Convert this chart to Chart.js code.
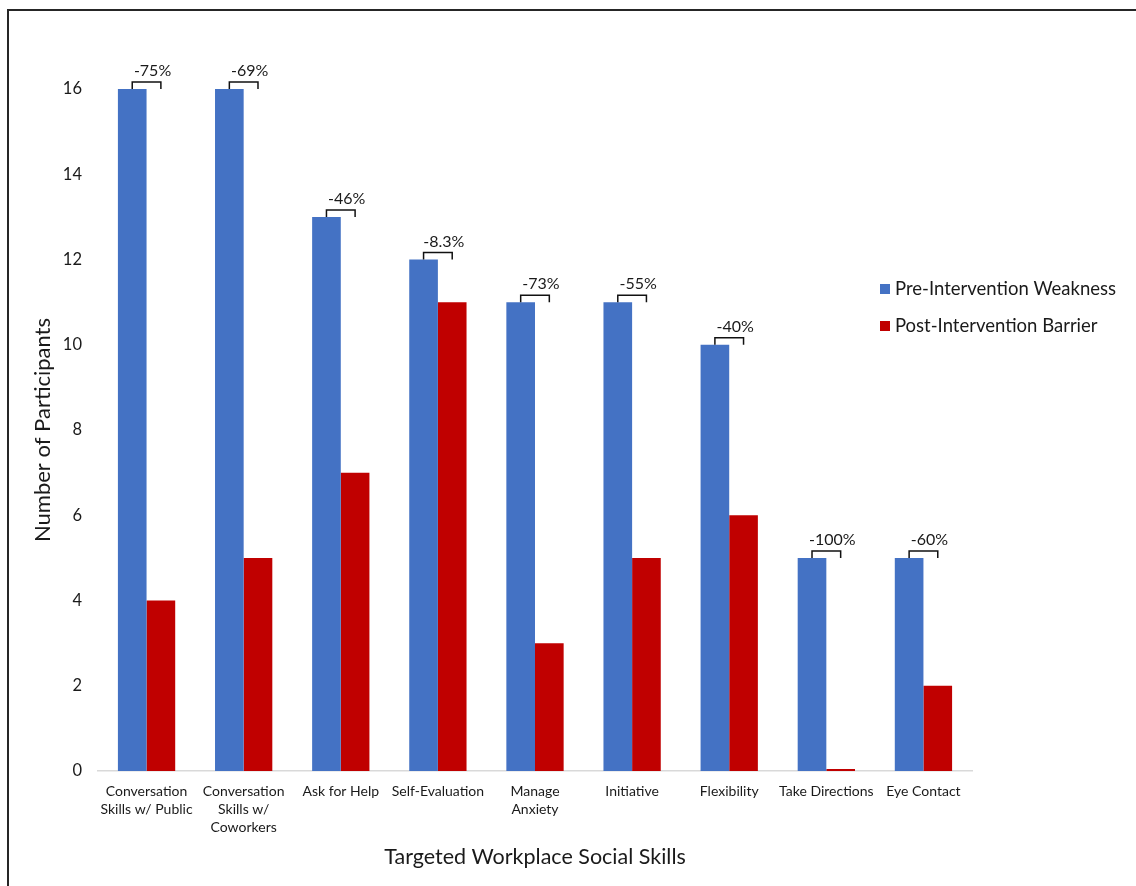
<!DOCTYPE html>
<html>
<head>
<meta charset="utf-8">
<script src="https://cdn.jsdelivr.net/npm/chart.js@4.4.1/dist/chart.umd.min.js"></script>
<style>
  html, body { margin: 0; padding: 0; background: #fff; }
  #wrap { position: relative; width: 1136px; height: 886px; overflow: hidden; }
  #frame {
    position: absolute; left: 7px; top: 9px; width: 1200px; height: 950px;
    border-left: 2px solid #262626; border-top: 2px solid #262626;
  }
  canvas { position: absolute; left: 0; top: 0; }
</style>
</head>
<body>
<div id="wrap">
  <div id="frame"></div>
  <canvas id="chart" width="1136" height="886"></canvas>
</div>
<script>
const skills = [
  ["Conversation", "Skills w/ Public"],
  ["Conversation", "Skills w/", "Coworkers"],
  "Ask for Help",
  "Self-Evaluation",
  ["Manage", "Anxiety"],
  "Initiative",
  "Flexibility",
  "Take Directions",
  "Eye Contact"
];
const preWeakness = [16, 16, 13, 12, 11, 11, 10, 5, 5];
const postBarrier = [4, 5, 7, 11, 3, 5, 6, 0, 2];
const changeLabels = ["-75%", "-69%", "-46%", "-8.3%", "-73%", "-55%", "-40%", "-100%", "-60%"];
const yTicks = [0, 2, 4, 6, 8, 10, 12, 14, 16];

const FONT = "Lato, 'Open Sans', sans-serif";
const TEXT = "#1a1a1a";

// brackets with percent change above each pair of bars
const changeBrackets = {
  id: "changeBrackets",
  afterDatasetsDraw(chart) {
    const ctx = chart.ctx;
    const pre = chart.getDatasetMeta(0).data;
    const post = chart.getDatasetMeta(1).data;
    ctx.save();
    ctx.strokeStyle = "#111";
    ctx.lineWidth = 1.5;
    ctx.fillStyle = TEXT;
    ctx.font = "16px " + FONT;
    ctx.textAlign = "center";
    ctx.textBaseline = "alphabetic";
    pre.forEach((bar, i) => {
      const x1 = bar.x;
      const x2 = post[i].x;
      const top = Math.min(bar.y, post[i].y);
      const yb = top - 7;
      ctx.beginPath();
      ctx.moveTo(x1, top);
      ctx.lineTo(x1, yb);
      ctx.lineTo(x2, yb);
      ctx.lineTo(x2, top);
      ctx.stroke();
      ctx.fillText(changeLabels[i], (x1 + x2) / 2 + 6, yb - 6);
    });
    ctx.restore();
  }
};

// legend sitting at the right, over the plot area
const sideLegend = {
  id: "sideLegend",
  afterDraw(chart) {
    const ctx = chart.ctx;
    const x = chart.chartArea.right - 92;
    const y0 = 289;
    ctx.save();
    ctx.font = "18.5px " + FONT;
    ctx.textBaseline = "middle";
    ctx.textAlign = "left";
    chart.data.datasets.forEach((ds, i) => {
      const y = y0 + i * 37;
      ctx.fillStyle = ds.backgroundColor;
      ctx.fillRect(x, y - 5, 10, 10);
      ctx.fillStyle = TEXT;
      ctx.fillText(ds.label, x + 15, y);
    });
    ctx.restore();
  }
};

new Chart(document.getElementById("chart"), {
  type: "bar",
  data: {
    labels: skills,
    datasets: [
      {
        label: "Pre-Intervention Weakness",
        data: preWeakness,
        backgroundColor: "#4472C4",
        categoryPercentage: 0.59,
        barPercentage: 1
      },
      {
        label: "Post-Intervention Barrier",
        data: postBarrier,
        backgroundColor: "#C00000",
        categoryPercentage: 0.59,
        barPercentage: 1,
        minBarLength: 2
      }
    ]
  },
  options: {
    responsive: false,
    animation: false,
    layout: { padding: { top: 89, right: 164, left: 0, bottom: 0 } },
    plugins: {
      legend: { display: false },
      tooltip: { enabled: false }
    },
    scales: {
      x: {
        grid: { display: false, drawTicks: false },
        border: { display: true, color: "#d9d9d9", width: 1.5 },
        ticks: {
          color: TEXT,
          font: { family: FONT, size: 14, lineHeight: 1.28 },
          padding: 12,
          maxRotation: 0,
          autoSkip: false
        },
        title: {
          display: true,
          text: "Targeted Workplace Social Skills",
          color: TEXT,
          font: { family: FONT, size: 21.5 },
          padding: { top: 0, bottom: 16 }
        },
        afterFit(scale) { scale.height = 115; }
      },
      y: {
        min: 0,
        max: 16,
        afterBuildTicks(scale) { scale.ticks = yTicks.map(v => ({ value: v })); },
        grid: { display: false, drawTicks: false },
        border: { display: false },
        ticks: {
          color: TEXT,
          font: { family: FONT, size: 16.5 },
          padding: 16
        },
        title: {
          display: true,
          text: "Number of Participants",
          color: TEXT,
          font: { family: FONT, size: 22 },
          padding: { top: 30, bottom: 0 }
        },
        afterFit(scale) { scale.width = 98; }
      }
    }
  },
  plugins: [changeBrackets, sideLegend]
});
</script>
</body>
</html>
